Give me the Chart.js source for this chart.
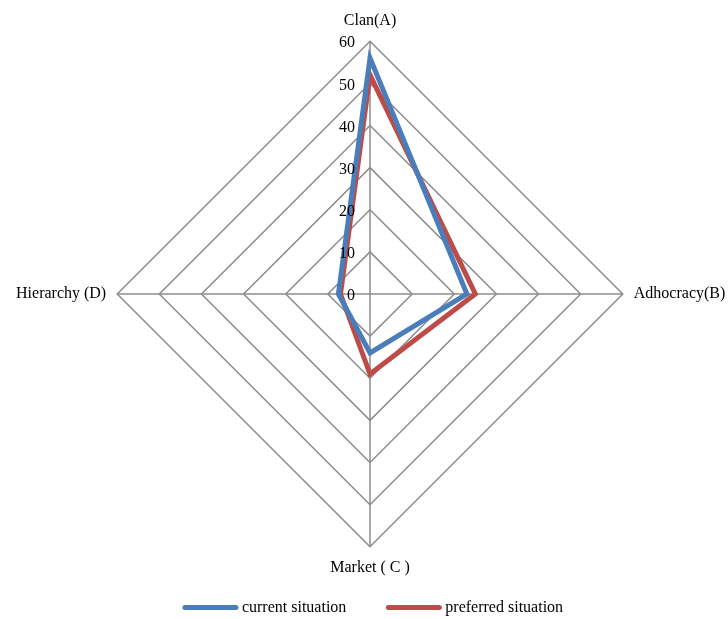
<!DOCTYPE html>
<html>
<head>
<meta charset="utf-8">
<script src="https://cdn.jsdelivr.net/npm/chart.js@4/dist/chart.umd.min.js"></script>
<style>
  html, body { margin: 0; padding: 0; background: #fff; }
  #wrap { width: 728px; height: 619px; position: relative; }
</style>
</head>
<body>
<div id="wrap"><canvas id="c"></canvas></div>
<script>
// Culture profile: four culture types, scores 0-60
const categories = ['Clan(A)', 'Adhocracy(B)', 'Market ( C )', 'Hierarchy (D)'];
const currentSituation = [56, 23, 14, 7.5];
const preferredSituation = [52, 25, 19, 7];
const tickValues = [0, 10, 20, 30, 40, 50, 60];

const SERIF = '"Liberation Serif", "Times New Roman", serif';
const GRID = '#8c8c8c';
const FONT_SIZE = 16;

// Tick numbers sit just left of the vertical axis, level with each ring
const sideTicks = {
  id: 'sideTicks',
  afterDatasetsDraw(chart) {
    const r = chart.scales.r;
    const ctx = chart.ctx;
    ctx.save();
    ctx.font = FONT_SIZE + 'px ' + SERIF;
    ctx.fillStyle = '#000';
    ctx.textAlign = 'right';
    ctx.textBaseline = 'middle';
    tickValues.forEach(v => {
      const d = r.getDistanceFromCenterForValue(v);
      ctx.fillText(String(v), r.xCenter - 15, r.yCenter - d + 2);
    });
    ctx.restore();
  }
};

// Legend row under the chart: a thick line sample followed by the series name
const lineLegend = {
  id: 'lineLegend',
  afterDraw(chart) {
    const ctx = chart.ctx;
    const r = chart.scales.r;
    const sampleW = 55, gapText = 4, gapItem = 40;
    ctx.save();
    ctx.font = FONT_SIZE + 'px ' + SERIF;
    const items = chart.data.datasets.map(ds => ({
      label: ds.label,
      color: ds.borderColor,
      w: sampleW + gapText + ctx.measureText(ds.label).width
    }));
    const total = items.reduce((s, it) => s + it.w, 0) + gapItem * (items.length - 1);
    let x = r.xCenter + 3 - total / 2;
    const y = chart.height - 11.5;
    items.forEach(it => {
      ctx.strokeStyle = it.color;
      ctx.lineWidth = 5;
      ctx.lineCap = 'round';
      ctx.beginPath();
      ctx.moveTo(x + 2, y);
      ctx.lineTo(x + sampleW - 2, y);
      ctx.stroke();
      ctx.fillStyle = '#000';
      ctx.textAlign = 'left';
      ctx.textBaseline = 'middle';
      ctx.fillText(it.label, x + sampleW + gapText, y);
      x += it.w + gapItem;
    });
    ctx.restore();
  }
};

new Chart(document.getElementById('c'), {
  type: 'radar',
  data: {
    labels: categories,
    datasets: [
      {
        label: 'current situation',
        data: currentSituation,
        borderColor: '#4a7ebb',
        backgroundColor: '#4a7ebb',
        borderWidth: 5,
        fill: false,
        pointRadius: 0,
        pointHoverRadius: 0
      },
      {
        label: 'preferred situation',
        data: preferredSituation,
        borderColor: '#be4b48',
        backgroundColor: '#be4b48',
        borderWidth: 5,
        fill: false,
        pointRadius: 0,
        pointHoverRadius: 0
      }
    ]
  },
  options: {
    responsive: true,
    maintainAspectRatio: false,
    animation: false,
    layout: { padding: { top: 12, bottom: 41, left: 14, right: 0 } },
    scales: {
      r: {
        min: 0,
        max: 60,
        ticks: { stepSize: 10, display: false },
        grid: { color: GRID, lineWidth: 1.5, circular: false },
        angleLines: { color: GRID, lineWidth: 1.5 },
        pointLabels: {
          font: { family: SERIF, size: FONT_SIZE },
          color: '#000',
          padding: 11
        }
      }
    },
    plugins: {
      legend: { display: false },
      tooltip: { enabled: false }
    }
  },
  plugins: [sideTicks, lineLegend]
});
</script>
</body>
</html>
